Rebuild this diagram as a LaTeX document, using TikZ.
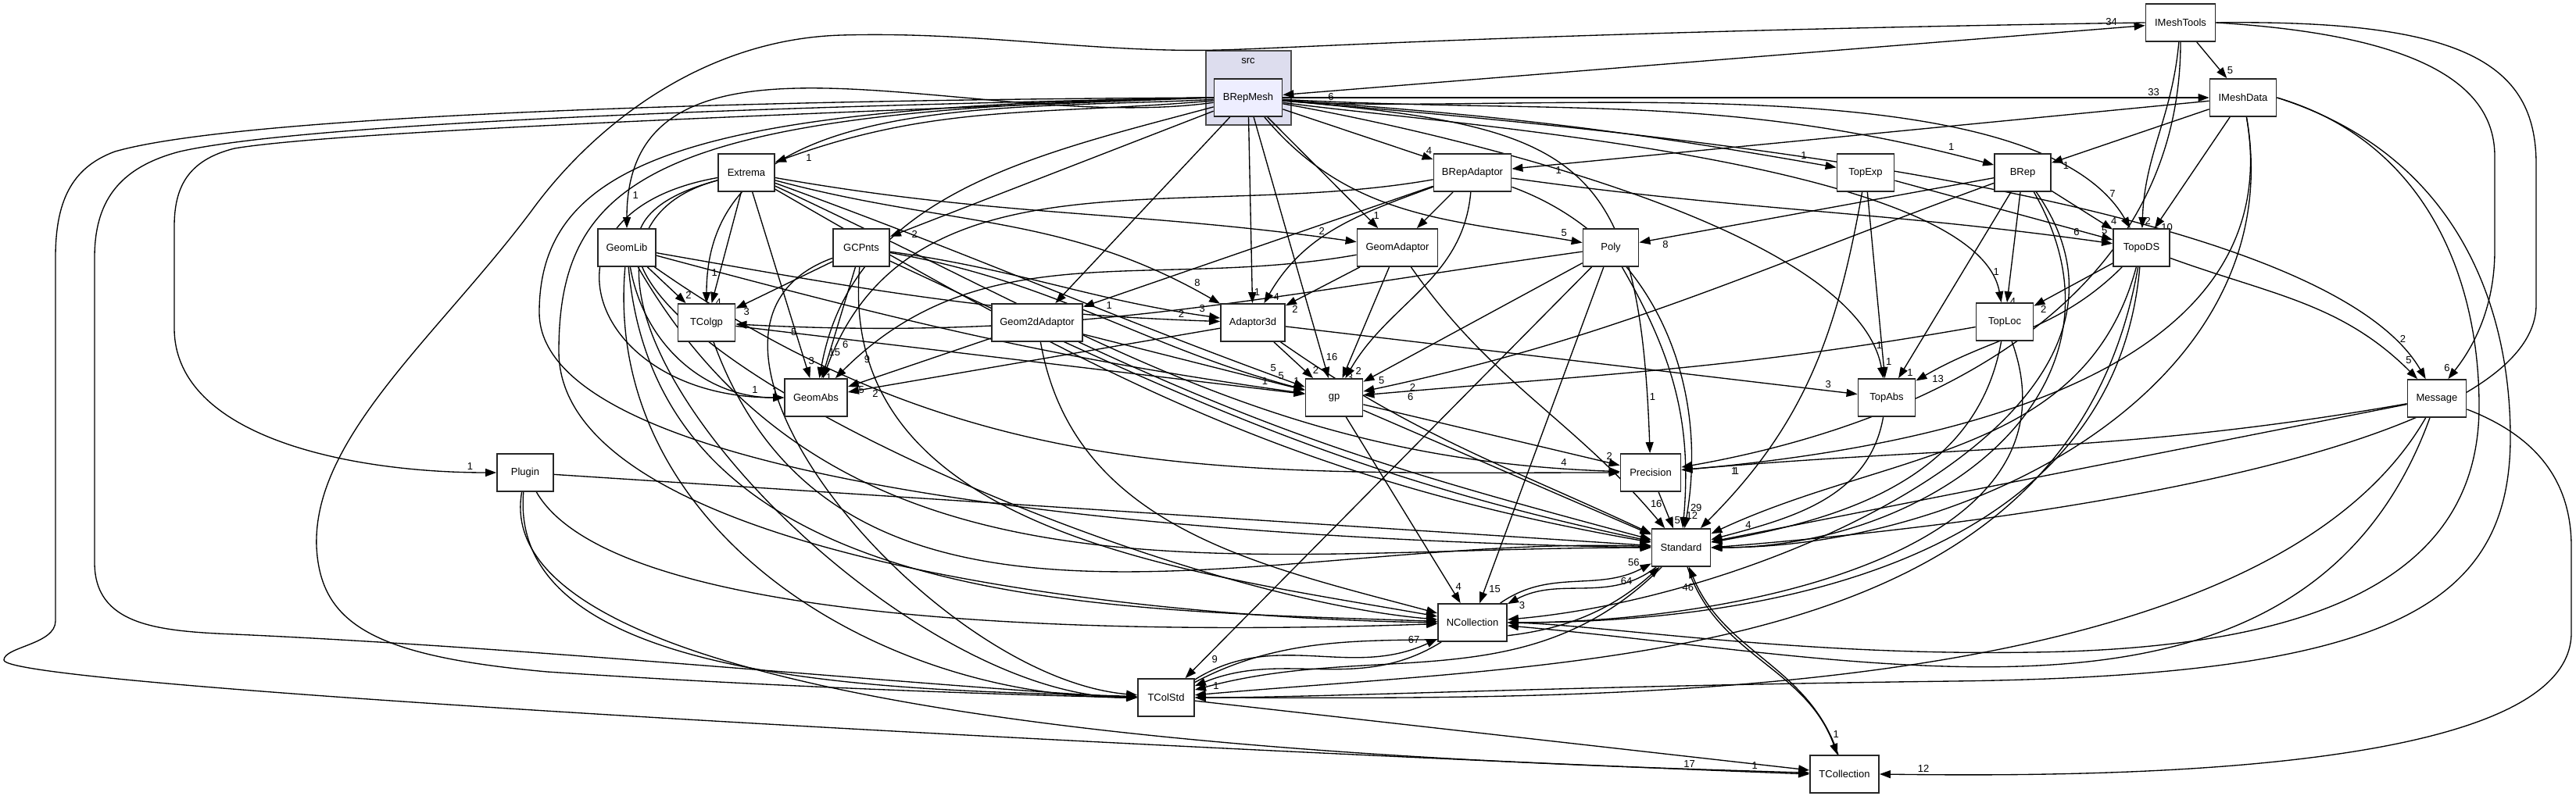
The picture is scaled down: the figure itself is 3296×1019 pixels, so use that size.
\documentclass[tikz,border=0pt]{standalone}
\usepackage{fontspec}
\setmainfont{Liberation Sans}
\usetikzlibrary{arrows.meta}
\definecolor{clusterfill}{RGB}{221,221,238}
\definecolor{mainfill}{RGB}{238,238,255}
\pgfdeclarelayer{back}
\pgfdeclarelayer{edges}
\pgfsetlayers{back,edges,main}

\begin{document}
\begin{tikzpicture}[
    x=0.01cm, y=0.01cm,
    dirbox/.style={draw=black!85, line width=0.5pt, fill=white, minimum width=#1,
      minimum height=0.48cm, inner sep=0pt, font=\fontsize{3.7}{4.4}\selectfont},
    dirbox/.default=0.72cm,
    cluster/.style={draw=black!70, line width=0.6pt, fill=clusterfill},
    dep/.style={line width=0.38pt, -{Triangle[length=0.14cm,width=0.1cm]}},
    lbl/.style={font=\fontsize{3.7}{4.4}\selectfont, pos=0.94, auto, inner sep=0.6pt}
  ]

  \useasboundingbox (0,0) rectangle (3296,-1019);

  % Cluster
  \begin{pgfonlayer}{back}
    \draw[cluster] (1543,-65) rectangle (1652,-160);
  \end{pgfonlayer}
  \node[font=\fontsize{3.7}{4.4}\selectfont] (src) at (1597,-78) {src};

  % Nodes
  \node[dirbox=0.87cm, fill=mainfill] (bm) at (1597,-125) {BRepMesh};
  \node[dirbox=0.89cm] (imt)   at (2790,-29)  {IMeshTools};
  \node[dirbox=0.85cm] (imd)   at (2870,-125) {IMeshData};
  \node[dirbox]        (ext)   at (955,-221)  {Extrema};
  \node[dirbox=0.99cm] (bra)   at (1884,-221) {BRepAdaptor};
  \node[dirbox=0.73cm] (tex)   at (2387,-221) {TopExp};
  \node[dirbox]        (brep)  at (2588,-221) {BRep};
  \node[dirbox=0.74cm] (glib)  at (802,-317)  {GeomLib};
  \node[dirbox]        (gcp)   at (1102,-317) {GCPnts};
  \node[dirbox=1.03cm] (gad)   at (1788,-317) {GeomAdaptor};
  \node[dirbox=0.71cm] (poly)  at (2061,-317) {Poly};
  \node[dirbox]        (tds)   at (2740,-317) {TopoDS};
  \node[dirbox=0.73cm] (tcgp)  at (904,-413)  {TColgp};
  \node[dirbox=1.16cm] (g2d)   at (1327,-413) {Geom2dAdaptor};
  \node[dirbox=0.82cm] (a3d)   at (1603,-413) {Adaptor3d};
  \node[dirbox=0.73cm] (tloc)  at (2565,-412) {TopLoc};
  \node[dirbox=0.80cm] (gabs)  at (1044,-509) {GeomAbs};
  \node[dirbox=0.73cm] (gp)    at (1707,-509) {gp};
  \node[dirbox=0.73cm] (tabs)  at (2414,-509) {TopAbs};
  \node[dirbox=0.75cm] (msg)   at (3118,-510) {Message};
  \node[dirbox]        (plug)  at (672,-605)  {Plugin};
  \node[dirbox=0.77cm] (prec)  at (2112,-605) {Precision};
  \node[dirbox=0.75cm] (std)   at (2151,-701) {Standard};
  \node[dirbox=0.88cm] (ncol)  at (1884,-797) {NCollection};
  \node[dirbox]        (tcstd) at (1492,-893) {TColStd};
  \node[dirbox=0.88cm] (tcol)  at (2360,-991) {TCollection};

  \begin{pgfonlayer}{edges}
    % Straight dependencies
    \foreach \s/\t/\n in {bm/imd/33, imt/imd/5, bm/bra/4, imd/bra/1, imd/brep/1,
        bm/gcp/2, bm/gad/1, bra/gad/2, brep/poly/8, brep/tds/4, imd/tds/10,
        tex/tds/5, glib/tcgp/2, ext/tcgp/4, gcp/tcgp/3, bm/g2d/{}, bra/g2d/1,
        bm/a3d/1, gad/a3d/2, brep/tloc/4, tds/tloc/2, ext/gabs/3, gcp/gabs/1,
        g2d/gabs/5, a3d/gabs/2, a3d/gp/2, bm/gp/16, gad/gp/3, poly/gp/5,
        g2d/gp/1, tcgp/gp/{}, tex/tabs/1, brep/tabs/1, a3d/tabs/3, gp/prec/2,
        prec/std/5, gp/std/{}, plug/std/{}, msg/std/{}, gp/ncol/4, poly/ncol/15,
        poly/tcstd/9, tcstd/tcol/{}}
      \draw[dep] (\s) -- node[lbl] {\n} (\t);

    % Curved dependencies
    \foreach \s/\t/\n/\o/\i/\l in {bm/ext/1/185/20/1, bm/tex/1/-4/170/1,
        bm/brep/1/-3/165/1, bm/glib/1/188/90/1, bm/tds/7/-5/120/0.6,
        imt/tds/2/-95/88/1, bra/tds/6/-8/172/1, bm/tcgp/1/183/90/1,
        bm/poly/5/-50/170/1, poly/tcgp/5/188/-3/1, ext/a3d/8/-15/150/1,
        gcp/a3d/3/-8/172/1, glib/a3d/2/-10/178/1, bra/a3d/4/200/60/1,
        bm/tloc/1/-8/100/0.5, bm/tabs/1/-10/100/0.6, bm/msg/2/-5/120/0.5,
        tds/msg/5/-20/135/1, glib/gabs/1/-80/180/1, ext/gabs/1/190/180/2.2,
        bm/gabs/15/195/80/1, bra/gabs/6/190/70/1, gad/gabs/9/190/45/1,
        tloc/gp/6/190/5/1, brep/gp/2/200/12/1, gcp/gp/5/-10/165/1,
        glib/gp/1/-15/172/1, ext/gp/5/-20/160/1, bra/gp/2/-95/60/1,
        tds/tabs/13/225/30/1, ext/prec/4/-25/178/1, glib/prec/{}/-35/180/1,
        bm/prec/1/-5/92/1.5, imt/prec/{}/-90/10/1, imd/prec/1/-80/5/1,
        msg/prec/1/190/5/1, ext/gad/2/-10/172/1,
        bra/std/29/-20/80/1, poly/std/12/-60/85/1, gad/std/16/-55/130/1,
        ext/std/{}/-30/170/1, glib/std/{}/-60/180/1, gcp/std/{}/-25/168/1,
        tcgp/std/{}/-70/178/1, a3d/std/{}/-35/155/1, g2d/std/{}/-25/165/1,
        tloc/std/{}/-100/10/1, tabs/std/{}/-100/15/1, tds/std/4/-105/25/1,
        brep/std/{}/-60/0/1.2, tex/std/{}/-100/45/1, imd/std/{}/-80/0/1,
        glib/ncol/{}/-85/178/1, ext/ncol/{}/195/175/1, plug/ncol/{}/-60/182/0.5,
        gcp/ncol/{}/-95/170/1, g2d/ncol/{}/-80/165/1, tds/ncol/{}/-95/0/1,
        brep/ncol/{}/-55/5/1, tloc/ncol/{}/-70/0/1, msg/ncol/{}/-110/-5/1,
        glib/tcstd/{}/-95/180/1, ext/tcstd/{}/195/180/1, plug/tcstd/{}/-95/178/0.8,
        gcp/tcstd/{}/200/175/1, std/tcstd/{}/225/15/1, tds/tcstd/{}/-100/5/1,
        msg/tcstd/{}/-120/0/0.7, plug/tcol/1/-100/178/0.5,
        ncol/std/56/35/208/1, std/ncol/3/218/28/1, tcstd/ncol/67/32/205/1,
        ncol/tcstd/1/212/22/1, tcstd/std/64/28/222/1, tcol/std/46/108/-68/1,
        std/tcol/1/-72/110/1}
      \draw[dep] (\s) to[out=\o, in=\i, looseness=\l] node[lbl] {\n} (\t);

    % Both ways between BRepMesh and IMeshTools
    \draw[dep, {Triangle[length=0.14cm,width=0.1cm]}-{Triangle[length=0.14cm,width=0.1cm]}]
      (bm) -- node[lbl, pos=0.97] {34} node[lbl, pos=0.05, swap] {6} (imt);

    % Long loops on the left
    \draw[dep] (bm.west) .. controls (900,-128) and (300,-150) .. (147,-194)
      .. controls (90,-215) and (71,-260) .. (71,-330) -- (71,-795)
      .. controls (71,-825) and (5,-828) .. (5,-845)
      .. controls (5,-880) and (1500,-960) .. node[lbl] {17} (tcol.west);
    \draw[dep] (bm.west) .. controls (900,-138) and (380,-160) .. (230,-194)
      .. controls (150,-215) and (121,-260) .. (121,-330) -- (121,-720)
      .. controls (121,-800) and (200,-808) .. (300,-812)
      .. controls (700,-830) and (1200,-880) .. (tcstd.west);
    \draw[dep] (bm.west) .. controls (900,-150) and (420,-170) .. (300,-190)
      .. controls (240,-205) and (223,-240) .. (223,-290) -- (223,-420)
      .. controls (223,-560) and (450,-605) .. node[lbl] {1} (plug.west);
    \draw[dep] (bm.west) .. controls (900,-135) and (690,-200) .. (690,-400)
      .. controls (690,-620) and (1500,-690) .. (std.west);
    \draw[dep] (bm.west) .. controls (850,-140) and (715,-220) .. (715,-450)
      .. controls (715,-700) and (1400,-790) .. (ncol.west);
    \draw[dep] (imt.west) .. controls (2000,-40) and (1650,-62) .. (1560,-64)
      .. controls (1400,-68) and (1250,-40) .. (1077,-45)
      .. controls (900,-50) and (760,-160) .. (680,-270)
      .. controls (560,-430) and (400,-560) .. (405,-700)
      .. controls (410,-800) and (480,-840) .. (700,-860)
      .. controls (1000,-880) and (1300,-890) .. (tcstd.west);

    % Long loops on the right
    \draw[dep] (imt.east) .. controls (3150,-25) and (3245,-80) .. (3245,-210)
      -- (3245,-390) .. controls (3245,-560) and (2700,-660) .. (std.east);
    \draw[dep] (imt.east) .. controls (3100,-45) and (3192,-110) .. (3192,-200)
      -- (3192,-320) .. controls (3192,-400) and (3160,-450) .. node[lbl, swap] {6} (msg.60);
    \draw[dep] (imd.east) .. controls (3100,-180) and (3172,-350) .. (3172,-520)
      .. controls (3172,-720) and (3000,-830) .. (2600,-835)
      .. controls (2300,-840) and (2050,-800) .. (ncol.east);
    \draw[dep] (imd.east) .. controls (3150,-200) and (3212,-400) .. (3212,-560)
      .. controls (3212,-780) and (3050,-865) .. (2500,-872)
      .. controls (2000,-878) and (1700,-893) .. (tcstd.east);
    \draw[dep] (msg.-20) .. controls (3250,-560) and (3290,-620) .. (3290,-700)
      -- (3290,-810) .. controls (3290,-990) and (2700,-995) .. node[lbl, swap] {12} (tcol.east);
  \end{pgfonlayer}

\end{tikzpicture}
\end{document}
